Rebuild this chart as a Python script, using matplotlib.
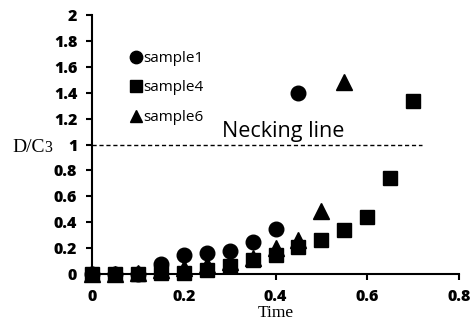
import matplotlib
matplotlib.use("Agg")
import matplotlib.pyplot as plt

# data
t1 = [0, 0.05, 0.1, 0.15, 0.2, 0.25, 0.3, 0.35, 0.4, 0.45]
sample1 = [0, 0, 0, 0.08, 0.15, 0.16, 0.18, 0.25, 0.35, 1.40]
t4 = [0, 0.05, 0.1, 0.15, 0.2, 0.25, 0.3, 0.35, 0.4, 0.45, 0.5, 0.55, 0.6, 0.65, 0.7]
sample4 = [0, 0, 0, 0.01, 0.01, 0.03, 0.06, 0.11, 0.15, 0.21, 0.26, 0.34, 0.44, 0.74, 1.34]
t6 = [0, 0.05, 0.1, 0.15, 0.2, 0.25, 0.3, 0.35, 0.4, 0.45, 0.5, 0.55]
sample6 = [0, 0, 0.01, 0.03, 0.05, 0.07, 0.09, 0.12, 0.20, 0.26, 0.49, 1.48]
necking_x = [0, 0.72]
necking_y = [1, 1]

xticks = [0, 0.2, 0.4, 0.6, 0.8]
yticks = [0, 0.2, 0.4, 0.6, 0.8, 1, 1.2, 1.4, 1.6, 1.8, 2]

fig = plt.figure(figsize=(4.71, 3.22), dpi=100)
ax = fig.add_axes([0.195, 0.149, 0.78, 0.804])

ax.plot(t1, sample1, 'o', color='black', ms=10.5, label='sample1', zorder=3, clip_on=False)
ax.plot(t6, sample6, '^', color='black', ms=11, label='sample6', zorder=3, clip_on=False)
ax.plot(t4, sample4, 's', color='black', ms=10, label='sample4', zorder=4, clip_on=False)
ax.plot(necking_x, necking_y, '--', color='black', lw=1, dashes=(3, 2))
ax.text(0.283, 1.06, 'Necking line', fontsize=15.5, family='Open Sans', va='baseline')

ax.set_xlim(0, 0.8)
ax.set_ylim(0, 2)
ax.set_xticks(xticks)
ax.set_yticks(yticks)
ax.set_xticklabels([f'{v:g}' for v in xticks], fontweight='heavy', family='Open Sans', fontsize=11.5)
ax.set_yticklabels([f'{v:g}' for v in yticks], fontweight='heavy', family='Open Sans', fontsize=11.5)
ax.spines['top'].set_visible(False)
ax.spines['right'].set_visible(False)
for s in ['left', 'bottom']:
    ax.spines[s].set_linewidth(1.5)
ax.tick_params(direction='out', length=4, width=1.5, pad=6.5)

ax.set_xlabel('Time', family='Liberation Serif', fontsize=12.5, labelpad=0.5)
ax.text(-0.173, 0.94, 'D/C', family='Liberation Serif', fontsize=14, ha='left', va='baseline')
ax.text(-0.104, 0.94, '3', family='Liberation Serif', fontsize=11.5, ha='left', va='baseline')

h, l = ax.get_legend_handles_labels()
order = [0, 2, 1]
ax.legend([h[i] for i in order], [l[i] for i in order], loc='upper left',
          bbox_to_anchor=(0.07, 0.915), frameon=False, handlelength=0.6,
          handletextpad=0.2, labelspacing=0.95, prop={'family': 'Open Sans', 'size': 11},
          markerscale=0.85)

fig.savefig('out.png', dpi=100)
